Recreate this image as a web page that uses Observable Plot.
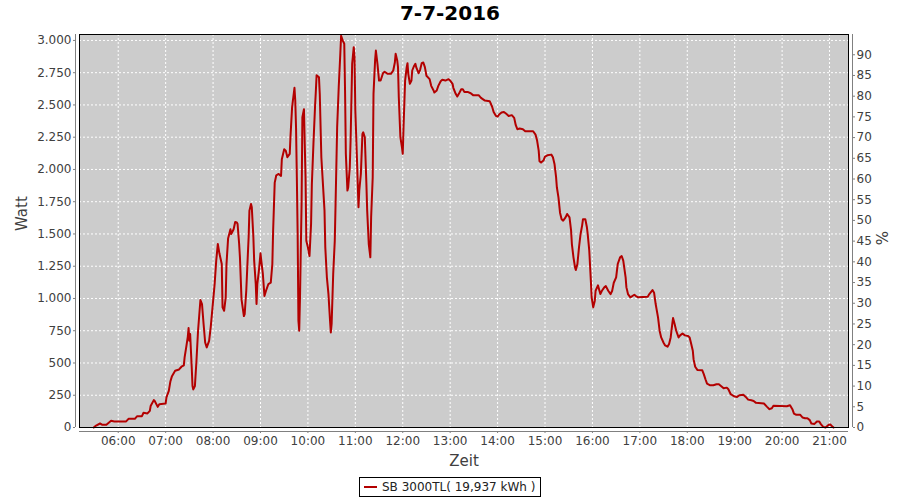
<!DOCTYPE html>
<html><head><meta charset="utf-8">
<script src="https://cdn.jsdelivr.net/npm/d3@7"></script>
<script src="https://cdn.jsdelivr.net/npm/@observablehq/plot@0.6"></script>
<style>
body{margin:0;background:#fff;font-family:"DejaVu Sans",sans-serif;}
#wrap{width:900px;height:500px;overflow:hidden;}
#title{height:26px;line-height:26px;text-align:center;font-weight:bold;font-size:20px;color:#000;}
#legend{display:flex;justify-content:center;margin-top:6px;}
.box{box-sizing:border-box;border:1px solid #000;width:182px;height:20px;display:flex;align-items:center;padding:0 0 0 4px;font-size:12px;color:#222;white-space:nowrap;}
.swatch{width:13px;height:2px;background:#b30000;margin-right:5px;flex:none;}
svg{display:block;}
</style></head>
<body>
<div id="wrap">
  <div id="title"></div>
  <div id="chart"></div>
  <div id="legend"><div class="box"><span class="swatch"></span><span id="legtext"></span></div></div>
</div>
<script>
const titleText = "7-7-2016";
const seriesName = "SB 3000TL( 19,937 kWh )";
const xLabel = "Zeit";
const yLabel = "Watt";
const y2Label = "%";
const hourTicks = ["06:00","07:00","08:00","09:00","10:00","11:00","12:00","13:00","14:00","15:00","16:00","17:00","18:00","19:00","20:00","21:00"];
const wattTicks = [0,250,500,750,1000,1250,1500,1750,2000,2250,2500,2750,3000];
const pctTicks = [0,5,10,15,20,25,30,35,40,45,50,55,60,65,70,75,80,85,90];
const wattsPerPercent = 32.1;

const times = [
"05:29","05:32","05:37","05:40","05:45","05:51","05:55","06:10","06:13","06:21","06:24","06:30","06:32","06:37","06:40","06:41","06:45","06:46","06:50","06:52",
"07:00","07:01","07:04","07:06","07:08","07:12","07:17","07:20","07:23","07:24","07:26","07:28","07:29","07:30","07:31","07:33","07:34","07:35","07:37","07:39",
"07:41","07:44","07:46","07:48","07:50","07:52","07:55","07:57","08:00","08:02","08:04","08:06","08:08","08:11","08:12","08:14","08:16","08:17","08:19","08:22",
"08:23","08:26","08:28","08:30","08:31","08:33","08:34","08:36","08:39","08:40","08:42","08:44","08:45","08:46","08:48","08:49","08:51","08:52","08:54","08:55",
"08:56","08:58","09:00","09:01","09:03","09:05","09:07","09:10","09:13","09:15","09:16","09:18","09:20","09:23","09:26","09:27","09:30","09:32","09:34","09:37",
"09:38","09:40","09:43","09:44","09:45","09:46","09:47","09:48","09:49","09:50","09:52","09:53","09:55","09:56","09:57","09:58","10:00","10:02","10:04","10:05",
"10:07","10:09","10:10","10:11","10:14","10:15","10:17","10:19","10:21","10:22","10:24","10:26","10:28","10:29","10:30","10:32","10:34","10:35","10:37","10:39",
"10:41","10:42","10:44","10:46","10:47","10:48","10:50","10:51","10:53","10:54","10:56","10:58","10:59","11:00","11:02","11:04","11:05","11:07","11:09","11:10",
"11:12","11:14","11:15","11:17","11:19","11:20","11:22","11:23","11:25","11:26","11:28","11:30","11:32","11:35","11:37","11:41","11:45","11:48","11:50","11:51",
"11:53","11:54","11:55","11:57","11:59","12:00","12:01","12:03","12:05","12:06","12:07","12:09","12:11","12:12","12:14","12:16","12:17","12:20","12:22","12:24",
"12:26","12:28","12:30","12:34","12:36","12:39","12:40","12:43","12:45","12:48","12:50","12:54","12:58","13:00","13:03","13:04","13:07","13:09","13:11","13:14",
"13:16","13:18","13:22","13:26","13:29","13:36","13:39","13:44","13:50","13:53","13:55","13:58","14:00","14:02","14:05","14:08","14:11","14:14","14:18","14:21",
"14:23","14:25","14:28","14:32","14:35","14:45","14:48","14:50","14:52","14:53","14:55","14:58","15:00","15:03","15:08","15:10","15:12","15:14","15:15","15:17",
"15:19","15:21","15:23","15:26","15:28","15:31","15:33","15:34","15:36","15:38","15:39","15:41","15:43","15:45","15:47","15:48","15:51","15:53","15:54","15:56",
"15:58","15:59","16:01","16:03","16:04","16:07","16:10","16:12","16:15","16:17","16:20","16:23","16:25","16:27","16:30","16:32","16:35","16:37","16:39","16:42",
"16:43","16:45","16:48","16:53","16:55","16:58","17:10","17:12","17:16","17:18","17:20","17:23","17:25","17:27","17:30","17:32","17:35","17:37","17:39","17:41",
"17:42","17:44","17:46","17:49","17:51","17:54","17:57","18:01","18:03","18:05","18:07","18:08","18:10","18:13","18:19","18:21","18:23","18:25","18:29","18:33",
"18:37","18:40","18:43","18:46","18:50","18:52","18:55","18:59","19:03","19:06","19:11","19:14","19:17","19:21","19:24","19:27","19:37","19:41","19:44","19:47",
"19:49","20:06","20:10","20:13","20:15","20:18","20:23","20:26","20:29","20:32","20:35","20:37","20:41","20:44","20:47","20:49","20:52","20:55","20:59","21:01",
"21:04","21:05"
];
const watts = [
0,15,31,21,21,52,47,47,67,67,88,88,114,109,129,166,212,207,160,181,
186,233,284,357,398,440,450,471,481,543,621,703,771,672,724,465,321,295,321,517,
750,988,957,802,659,621,672,776,977,1112,1293,1422,1350,1267,931,905,1009,1267,1464,1536,
1500,1536,1593,1590,1577,1422,1319,993,864,879,1060,1340,1474,1681,1733,1707,1474,1293,1112,957,
1112,1215,1350,1293,1190,1019,1060,1112,1122,1267,1526,1898,1955,1965,1950,2079,2157,2146,2095,2121,
2260,2483,2633,2534,2322,1940,1510,828,750,1009,1733,2405,2467,2198,1940,1448,1396,1329,1577,1888,
2198,2483,2601,2731,2715,2586,2095,1888,1681,1396,1164,1034,828,737,802,1190,1448,1733,2327,2638,
2896,3036,3000,2974,2612,2121,1836,1862,2017,2224,2819,2948,2870,2457,2095,1707,1836,1965,2276,2288,
2250,1888,1681,1422,1319,1629,1940,2586,2845,2922,2819,2689,2689,2746,2757,2741,2741,2767,2829,2896,
2845,2793,2560,2250,2172,2121,2327,2689,2793,2824,2741,2664,2689,2767,2798,2819,2793,2746,2772,2824,
2829,2793,2726,2700,2648,2612,2596,2612,2648,2684,2695,2689,2700,2689,2664,2633,2586,2565,2586,2622,
2622,2601,2601,2591,2576,2576,2555,2534,2529,2488,2446,2415,2410,2426,2441,2446,2431,2415,2421,2400,
2343,2312,2317,2312,2296,2296,2270,2224,2146,2064,2053,2069,2100,2110,2115,2095,2043,1940,1862,1784,
1665,1614,1603,1629,1655,1629,1526,1422,1319,1241,1221,1267,1396,1500,1567,1614,1614,1552,1500,1371,
1138,1009,931,983,1060,1102,1034,1060,1086,1096,1060,1034,1060,1122,1164,1267,1319,1329,1293,1164,
1086,1034,1009,1029,1019,1009,1014,1034,1065,1045,957,853,750,698,657,636,626,647,698,802,
848,802,750,698,714,729,714,709,698,647,595,528,471,445,443,412,374,340,327,327,
335,335,320,304,309,296,258,242,237,250,253,237,216,211,206,191,186,160,142,149,
168,165,173,142,108,98,98,77,72,72,57,31,28,46,46,26,5,0,21,23,
5,0
];

const parse = s => { const [h, m] = s.split(":").map(Number); return new Date(Date.UTC(2016, 6, 7, h, m)); };
const data = times.map((t, i) => ({t: parse(t), w: watts[i]}));
const xDomain = [parse("05:11"), parse("21:24")];
const de = d3.formatLocale({decimal: ",", thousands: ".", grouping: [3], currency: ["", "€"]});
const fmt = de.format(",");
const grid = {stroke: "white", strokeOpacity: 1, strokeWidth: 1, strokeDasharray: "2,2"};
const labelColor = "#404040";

document.getElementById("title").textContent = titleText;
document.getElementById("legtext").textContent = seriesName;

const chart = Plot.plot({
  width: 900, height: 445,
  marginLeft: 79, marginRight: 52, marginTop: 8, marginBottom: 44,
  style: {fontFamily: "DejaVu Sans, sans-serif", fontSize: "12px", background: "white", overflow: "visible"},
  x: {type: "utc", domain: xDomain},
  y: {domain: [0, 3046]},
  marks: [
    Plot.frame({fill: "#cccccc", stroke: "none"}),
    Plot.gridX(hourTicks.map(parse), grid),
    Plot.gridY(wattTicks.filter(v => v > 0), grid),
    Plot.line(data, {x: "t", y: "w", stroke: "#b30000", strokeWidth: 2}),
    Plot.frame({stroke: "black", strokeWidth: 1}),
    Plot.ruleX([xDomain[0]], {dx: -4, stroke: "#808080"}),
    Plot.ruleX([xDomain[1]], {dx: 4, stroke: "#808080"}),
    Plot.ruleY([0], {dy: 4, stroke: "#808080"}),
    Plot.axisY(wattTicks, {anchor: "left", tickSize: 2, tickPadding: 2, dx: -4, tickFormat: fmt, label: null, stroke: "#808080", fill: labelColor}),
    Plot.axisY(pctTicks.map(p => p * wattsPerPercent), {anchor: "right", tickSize: 2, tickPadding: 2, dx: 4, tickFormat: d => String(Math.round(d / wattsPerPercent)), label: null, stroke: "#808080", fill: labelColor}),
    Plot.axisX(hourTicks.map(parse), {anchor: "bottom", tickSize: 2, tickPadding: 3, dy: 4, tickFormat: d3.utcFormat("%H:%M"), label: null, stroke: "#808080", fill: labelColor}),
    Plot.text([yLabel], {text: d => d, frameAnchor: "left", dx: -57, rotate: -90, fontSize: 15, fill: labelColor}),
    Plot.text([xLabel], {text: d => d, frameAnchor: "bottom", dy: 38, fontSize: 15, fill: labelColor}),
    Plot.text([y2Label], {text: d => d, frameAnchor: "right", dx: 35, rotate: -90, fontSize: 15, fill: labelColor})
  ]
});
document.getElementById("chart").appendChild(chart);
</script>
</body></html>
